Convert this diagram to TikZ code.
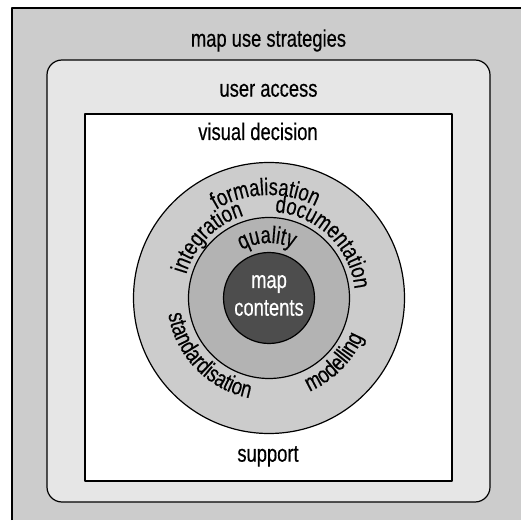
\documentclass[tikz,border=0pt]{standalone}
\usepackage{fontspec}
\setmainfont{Liberation Sans}[FakeStretch=0.765,FakeBold=0.4]
\usetikzlibrary{decorations.text}
\newcommand\lblfont{\fontsize{24}{28}\selectfont}
\definecolor{outerbg}{HTML}{CCCCCC}
\definecolor{accessbg}{HTML}{E6E6E6}
\definecolor{ringA}{HTML}{CCCCCC}
\definecolor{ringB}{HTML}{B3B3B3}
\definecolor{coreC}{HTML}{4D4D4D}
\begin{document}
\begin{tikzpicture}[x=1pt,y=1pt,line join=round]
\tikzset{
  lbl/.style={font=\lblfont, inner sep=0pt, anchor=base},
  frame/.style={draw, line width=1.2pt, inner sep=0pt},
  disc/.style={circle, draw, line width=1.2pt, inner sep=0pt},
  arctext/.style={decorate, decoration={text along path, text={|\lblfont|#1}, text align=center}}
}
\useasboundingbox (0,0) rectangle (522,520);
\fill[outerbg] (12,0) rectangle (520.5,512);
\draw[line width=1.8pt] (12,0) -- (12,512) -- (520.5,512);
\node[frame, fill=accessbg, rounded corners=15pt, minimum width=443pt, minimum height=442pt] (access) at (268.5,239) {};
\node[frame, fill=white, minimum width=367pt, minimum height=367pt] (visual) at (268.5,222.5) {};
\coordinate (C) at (269,222);
\node[disc, fill=ringA, minimum size=271pt] (outer) at (C) {};
\node[disc, fill=ringB, minimum size=161pt] (middle) at (C) {};
\node[disc, fill=coreC, minimum size=91pt] (core) at (C) {};

\node[lbl] (tstrat) at (268.5,473.3) {map use strategies};
\node[lbl] (taccess) at (268.5,423.3) {user access};
\node[lbl] (tvisual) at (258,380) {visual decision};
\node[lbl] (tsupport) at (268,58.3) {support};
\node[lbl, text=white] (tmap) at (269,232) {map};
\node[lbl, text=white] (tcont) at (269,204.3) {contents};

\path[arctext=formalisation] (C) ++(130:103) arc[start angle=130, end angle=54, radius=103];
\path[arctext=integration] (C) ++(180:86) arc[start angle=180, end angle=91, radius=86];
\path[arctext=documentation] (C) ++(96:86) arc[start angle=96, end angle=-4, radius=86];
\path[arctext=quality] (C) ++(150:55) arc[start angle=150, end angle=34, radius=55];
\path[arctext=standardisation] (C) ++(174:102) arc[start angle=174, end angle=274, radius=102];
\path[arctext=modelling] (C) ++(270:102) arc[start angle=270, end angle=361, radius=102];
\end{tikzpicture}
\end{document}
